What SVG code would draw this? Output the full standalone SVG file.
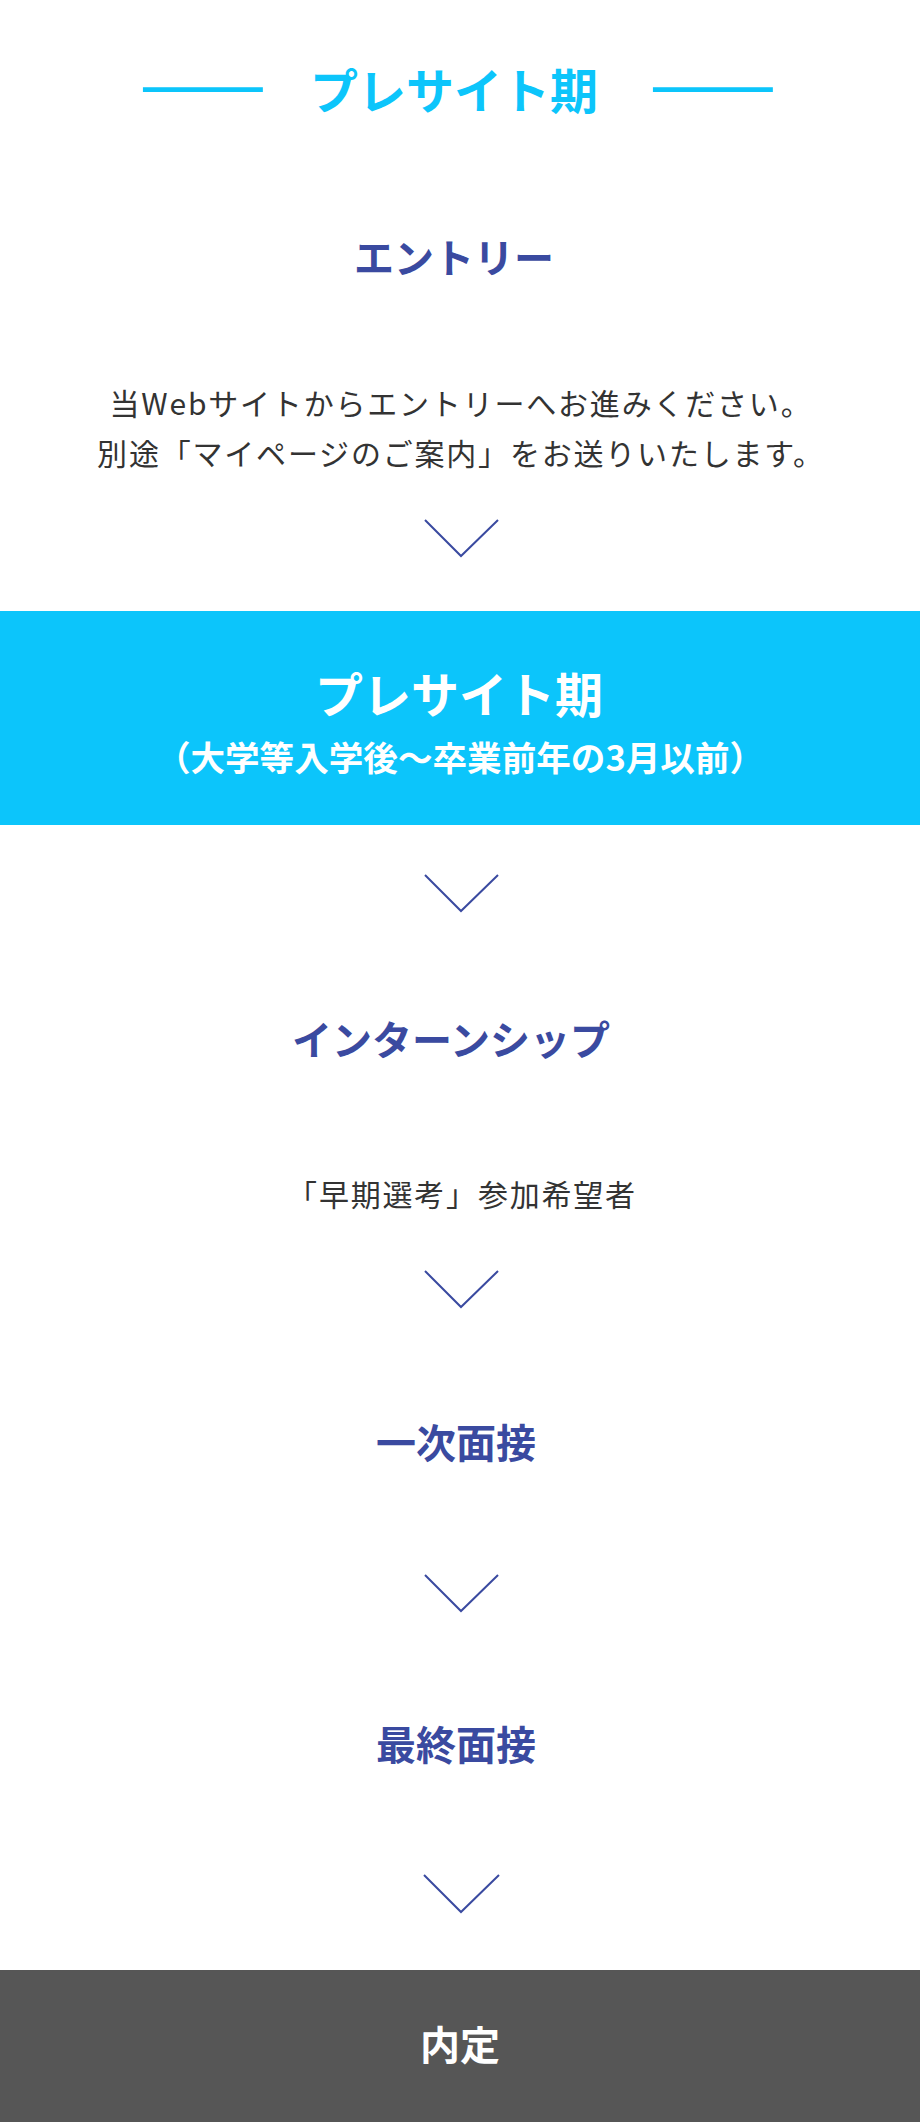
<svg xmlns="http://www.w3.org/2000/svg" width="920" height="2122" viewBox="0 0 920 2122">
<style>
text{font-family:"Noto Sans CJK JP","Noto Sans",sans-serif;text-anchor:middle}
.ttl{font-size:48px;font-weight:700;fill:#0cc5fb}
.dash{font-size:50px;font-weight:700;fill:#0cc5fb}
.step{font-size:40px;font-weight:700;fill:#3a4aa0}
.body{font-size:30px;font-weight:400;fill:#333333;letter-spacing:1.8px}
.wt{fill:#ffffff;font-weight:700}
.chev{fill:none;stroke:#3a4aa0;stroke-width:2}
</style>
<rect width="920" height="2122" fill="#ffffff"/>
<g id="header">
<text class="dash" x="203" y="104">———</text>
<text class="ttl" x="454" y="109">プレサイト期</text>
<text class="dash" x="713" y="104">———</text>
</g>
<g id="entry">
<text class="step" x="454" y="273">エントリー</text>
<text class="body" x="461" y="415">当Webサイトからエントリーへお進みください。</text>
<text class="body" x="461" y="465">別途「マイページのご案内」をお送りいたします。</text>
</g>
<g id="presite">
<rect x="0" y="611" width="920" height="214" fill="#0cc5fb"/>
<text class="wt" x="459" y="713" font-size="48">プレサイト期</text>
<text class="wt" x="460" y="771" font-size="34.6">（大学等入学後〜卒業前年の3月以前）</text>
</g>
<g id="internship">
<text class="step" x="451" y="1055">インターンシップ</text>
<text class="body" x="462" y="1206">「早期選考」参加希望者</text>
</g>
<g id="interview1">
<text class="step" x="456" y="1458">一次面接</text>
</g>
<g id="interview2">
<text class="step" x="456" y="1760">最終面接</text>
</g>
<g id="offer">
<rect x="0" y="1970" width="920" height="152" fill="#565656"/>
<text class="wt" x="460" y="2060" font-size="40">内定</text>
</g>
<g id="connectors">
<polyline class="chev" points="425,520 461,556 498,520"/>
<polyline class="chev" points="425,875 461,911 498,875"/>
<polyline class="chev" points="425,1271 461,1307 498,1271"/>
<polyline class="chev" points="425,1575 461,1611 498,1575"/>
<polyline class="chev" points="424,1875 461,1912 499,1875"/>
</g>
</svg>
